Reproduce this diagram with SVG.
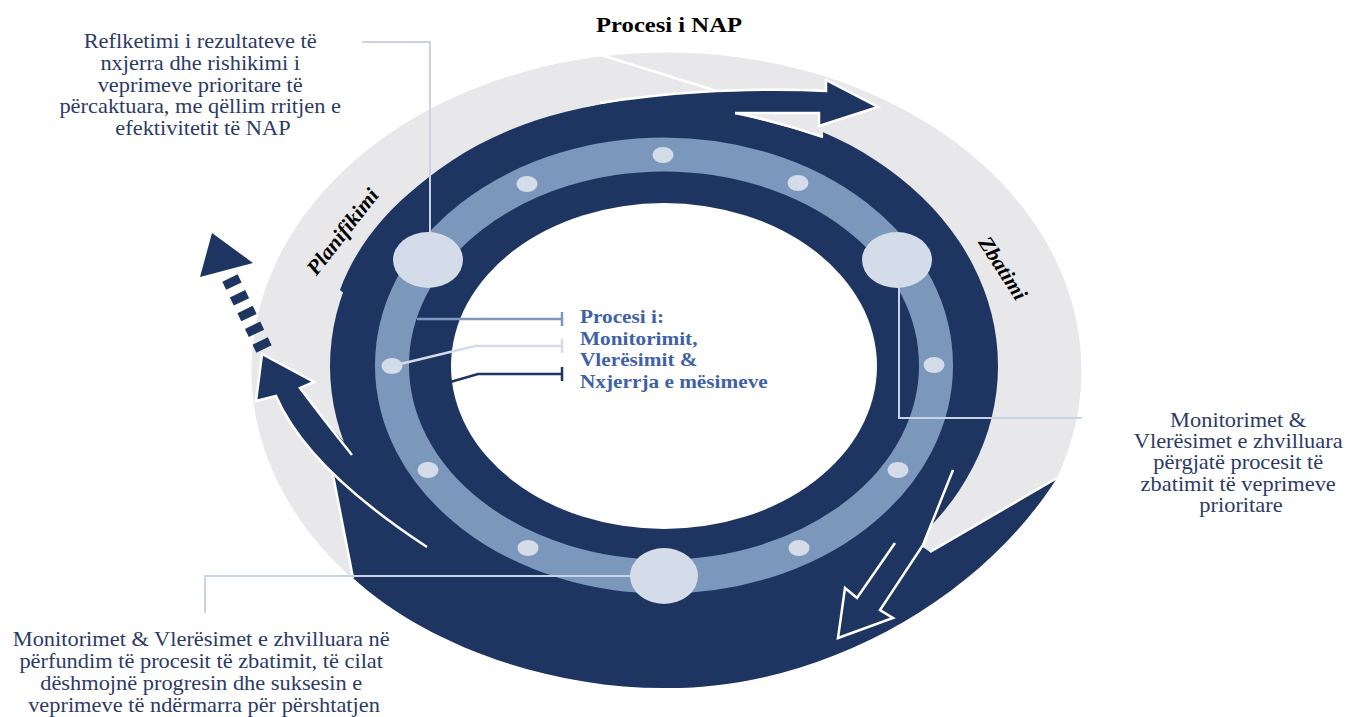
<svg xmlns="http://www.w3.org/2000/svg" width="1348" height="717" viewBox="0 0 1348 717">
<style>
.dark{fill:#1e3461}
.gray{fill:#e8e8eb}
.seam{fill:none;stroke:#ffffff;stroke-width:2.5;stroke-linejoin:miter}
.dot{fill:#d3dce8}
.conn{fill:none;stroke:#c8d3e4;stroke-width:2}
.lbl{font-family:"Liberation Serif","Times New Roman",serif;font-size:20px;fill:#2c3b66;text-anchor:middle}
.phase{font-family:"Liberation Serif","Times New Roman",serif;font-size:21px;font-weight:bold;font-style:italic;fill:#000000;text-anchor:middle}
.ctr{font-family:"Liberation Serif","Times New Roman",serif;font-size:19px;font-weight:bold;fill:#3f62a6}
.title{font-family:"Liberation Serif","Times New Roman",serif;font-size:22px;font-weight:bold;fill:#000000;text-anchor:middle}
</style>
<rect width="1348" height="717" fill="#ffffff"/>

<g id="gray-ring">
  <path class="gray" d="M352,578 A415,318 0 1 1 1057,478 L930,552 L664,365 Z"/>
  <path class="seam" d="M585,50 L720,92"/>
</g>

<g id="dark-ring">
  <ellipse class="dark" cx="664" cy="366" rx="334" ry="266"/>
  <path class="dark" d="M1057,478 C980,600 820,690 664,688 C540,688 420,640 353,578 L332,470 L664,366 L930,552 Z"/>
  <path class="seam" d="M1057,478 L930,552"/>
  <path class="seam" d="M332,470 L353,578"/>
  <polygon class="gray" points="735,113 823,113 823,137"/>
  <path class="seam" d="M735,113 Q780,122 823,137"/>
</g>

<g id="top-arrow">
  <path class="dark" d="M352,300 L340,290 C380,180 520,100 700,92 Q770,88 826,91 L826,80 L878,107 L819,126 L819,113 L735,113 L600,140 Z"/>
  <path class="seam" d="M600,103 Q650,95 700,92 Q770,88 826,91 L826,80 L878,107 L819,126 L819,113 L735,113"/>
</g>

<g id="left-arrow">
  <path class="dark" d="M427,547 C340,490 295,440 276,396 L256,401 L262,354 L314,382 L300,388 C320,415 345,445 372,470 Z"/>
  <path class="seam" d="M427,547 C340,490 295,440 276,396 L256,401 L262,354 L314,382 L300,388 C318,412 336,435 352,455"/>
</g>

<g id="dashed-arrow">
  <polygon class="dark" points="212,233 200,277 253,263"/>
  <line x1="230" y1="278" x2="264" y2="349" stroke="#1e3461" stroke-width="17" stroke-dasharray="9 8.45"/>
</g>

<g id="bottom-arrow">
  <polygon class="dark" points="953,470 923,545 880,610 893,618 838,638 845,588 857,598 895,543"/>
  <polyline class="seam" points="953,470 923,545 880,610 893,618 838,638 845,588 857,598 895,543"/>
</g>

<g id="hole">
  <ellipse cx="664" cy="366" rx="213" ry="163" fill="#ffffff"/>
</g>

<g id="light-ring">
  <ellipse cx="664" cy="365.5" rx="272" ry="211" fill="none" stroke="#7b97bb" stroke-width="34"/>
</g>

<g id="connectors">
  <polyline class="conn" points="362,42 430,42 430,235"/>
  <polyline class="conn" points="899,285 899,418 1082,418"/>
  <polyline class="conn" points="632,576 205,576 205,613"/>
  <polyline points="417,319 562,319" fill="none" stroke="#7b97bb" stroke-width="2.5"/>
  <line x1="562" y1="312" x2="562" y2="326" stroke="#7b97bb" stroke-width="2.5"/>
  <polyline points="392,366 475,346 562,346" fill="none" stroke="#d3dce8" stroke-width="2.5"/>
  <line x1="562" y1="339" x2="562" y2="353" stroke="#d3dce8" stroke-width="2.5"/>
  <polyline points="440,385 478,374 562,374" fill="none" stroke="#1e3461" stroke-width="2.5"/>
  <line x1="562" y1="367" x2="562" y2="381" stroke="#1e3461" stroke-width="2.5"/>
</g>

<g id="dots">
  <ellipse class="dot" cx="663" cy="155" rx="10.5" ry="8"/>
  <ellipse class="dot" cx="527" cy="184" rx="10.5" ry="8"/>
  <ellipse class="dot" cx="798" cy="183" rx="10.5" ry="8"/>
  <ellipse class="dot" cx="392" cy="366" rx="10.5" ry="8"/>
  <ellipse class="dot" cx="934" cy="365" rx="10.5" ry="8"/>
  <ellipse class="dot" cx="428" cy="470" rx="10.5" ry="8"/>
  <ellipse class="dot" cx="898" cy="470" rx="10.5" ry="8"/>
  <ellipse class="dot" cx="528" cy="548" rx="10.5" ry="8"/>
  <ellipse class="dot" cx="799" cy="548" rx="10.5" ry="8"/>
</g>

<g id="node-planning"><ellipse class="dot" cx="428" cy="260" rx="35" ry="28"/></g>
<g id="node-implementation"><ellipse class="dot" cx="897" cy="260" rx="35" ry="28"/></g>
<g id="node-final"><ellipse class="dot" cx="664" cy="576" rx="34" ry="28"/></g>

<g id="title">
  <text class="title" transform="translate(669,32) scale(1.12,1)" x="0" y="0">Procesi  i  NAP</text>
</g>

<g id="phase-labels">
  <text class="phase" transform="translate(348,236) rotate(-52) scale(1.05,1)">Planifikimi</text>
  <text class="phase" transform="translate(997,272) rotate(57) scale(1.05,1)">Zbatimi</text>
</g>

<g id="label-top-left">
  <text class="lbl" transform="translate(203,0) scale(1.12,1)">
    <tspan x="0" y="48">Reflketimi  i rezultateve  të</tspan>
    <tspan x="0" y="70">nxjerra dhe rishikimi  i</tspan>
    <tspan x="0" y="92">veprimeve  prioritare  të</tspan>
    <tspan x="0" y="113">përcaktuara, me qëllim rritjen e</tspan>
    <tspan x="0" y="135">efektivitetit  të NAP</tspan>
  </text>
</g>

<g id="label-right">
  <text class="lbl" transform="translate(1241,0) scale(1.12,1)">
    <tspan x="0" y="427">Monitorimet &amp;</tspan>
    <tspan x="0" y="448">Vlerësimet e zhvilluara</tspan>
    <tspan x="0" y="469.5">përgjatë procesit të</tspan>
    <tspan x="0" y="491">zbatimit të veprimeve</tspan>
    <tspan x="0" y="512">prioritare</tspan>
  </text>
</g>

<g id="label-bottom">
  <text class="lbl" transform="translate(204,0) scale(1.12,1)">
    <tspan x="0" y="646">Monitorimet &amp; Vlerësimet  e zhvilluara  në</tspan>
    <tspan x="0" y="668.5">përfundim të procesit të zbatimit, të cilat</tspan>
    <tspan x="0" y="690.5">dëshmojnë progresin dhe suksesin e</tspan>
    <tspan x="0" y="712.5">veprimeve  të ndërmarra për përshtatjen</tspan>
  </text>
</g>

<g id="label-center">
  <text class="ctr" transform="translate(580,0) scale(1.12,1)">
    <tspan x="0" y="323">Procesi i:</tspan>
    <tspan x="0" y="345">Monitorimit,</tspan>
    <tspan x="0" y="366">Vlerësimit  &amp;</tspan>
    <tspan x="0" y="388">Nxjerrja e mësimeve</tspan>
  </text>
</g>
</svg>
